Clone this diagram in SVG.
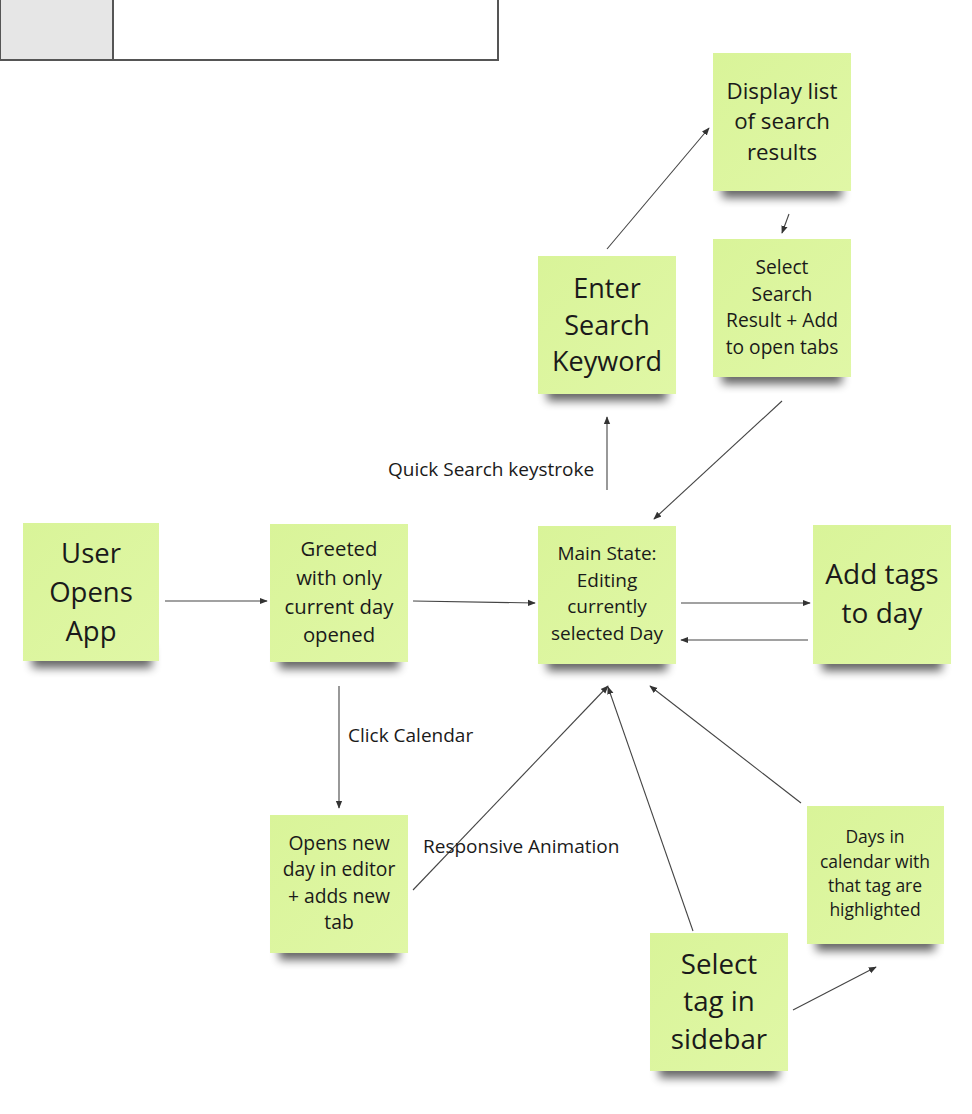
<svg xmlns="http://www.w3.org/2000/svg" width="972" height="1114" viewBox="0 0 972 1114">
<defs>
<style>
.note{fill:url(#g)}
.sh{fill:#000;opacity:0.6;filter:url(#blur)}
text{font-family:"Open Sans","Noto Sans",sans-serif;fill:#1a1a1a;text-anchor:middle}
.lbl{text-anchor:start;font-size:19px}
.c{stroke:#444;stroke-width:1.1;fill:none;marker-end:url(#ah)}
</style>
<linearGradient id="g" x1="0" y1="0" x2="1" y2="1">
<stop offset="0" stop-color="#d9f499"/>
<stop offset="1" stop-color="#e0f7a6"/>
</linearGradient>
<filter id="blur" x="-20%" y="-100%" width="140%" height="300%"><feGaussianBlur stdDeviation="5"/></filter>
<marker id="ah" viewBox="0 0 10 10" refX="9" refY="5" markerWidth="8" markerHeight="8" markerUnits="userSpaceOnUse" orient="auto">
<path d="M0,1 L10,5 L0,9 Z" fill="#333"/>
</marker>
</defs>
<g id="header">
<rect x="0" y="-2" width="113" height="62" fill="#e6e6e6" stroke="#555" stroke-width="2"/>
<rect x="113" y="-2" width="385" height="62" fill="#fff" stroke="#555" stroke-width="2"/>
</g>
<g id="n-user">
<rect class="sh" x="32" y="648" width="120" height="20"/>
<rect class="note" x="23" y="523" width="136" height="138"/>
<text font-size="27.5"><tspan x="91" y="563">User</tspan><tspan x="91" y="602">Opens</tspan><tspan x="91" y="641">App</tspan></text>
</g>
<g id="n-greeted">
<rect class="sh" x="279" y="649" width="120" height="20"/>
<rect class="note" x="270" y="524" width="138" height="138"/>
<text font-size="20.3"><tspan x="339" y="556">Greeted</tspan><tspan x="339" y="585">with only</tspan><tspan x="339" y="614">current day</tspan><tspan x="339" y="642">opened</tspan></text>
</g>
<g id="n-main">
<rect class="sh" x="547" y="651" width="120" height="20"/>
<rect class="note" x="538" y="526" width="138" height="138"/>
<text font-size="19"><tspan x="607" y="560">Main State:</tspan><tspan x="607" y="587">Editing</tspan><tspan x="607" y="613">currently</tspan><tspan x="607" y="640">selected Day</tspan></text>
</g>
<g id="n-addtags">
<rect class="sh" x="822" y="651" width="120" height="20"/>
<rect class="note" x="813" y="525" width="138" height="139"/>
<text font-size="28"><tspan x="882" y="584">Add tags</tspan><tspan x="882" y="623">to day</tspan></text>
</g>
<g id="n-enter">
<rect class="sh" x="547" y="381" width="120" height="20"/>
<rect class="note" x="538" y="256" width="138" height="138"/>
<text font-size="27"><tspan x="607" y="298">Enter</tspan><tspan x="607" y="335">Search</tspan><tspan x="607" y="371">Keyword</tspan></text>
</g>
<g id="n-display">
<rect class="sh" x="722" y="178" width="120" height="20"/>
<rect class="note" x="713" y="53" width="138" height="138"/>
<text font-size="22.3"><tspan x="782" y="99">Display list</tspan><tspan x="782" y="129">of search</tspan><tspan x="782" y="160">results</tspan></text>
</g>
<g id="n-select">
<rect class="sh" x="722" y="364" width="120" height="20"/>
<rect class="note" x="713" y="239" width="138" height="138"/>
<text font-size="19.2"><tspan x="782" y="274">Select</tspan><tspan x="782" y="301">Search</tspan><tspan x="782" y="327">Result + Add</tspan><tspan x="782" y="354">to open tabs</tspan></text>
</g>
<g id="n-opens">
<rect class="sh" x="279" y="940" width="120" height="20"/>
<rect class="note" x="270" y="815" width="138" height="138"/>
<text font-size="19.3"><tspan x="339" y="850">Opens new</tspan><tspan x="339" y="876">day in editor</tspan><tspan x="339" y="903">+ adds new</tspan><tspan x="339" y="929">tab</tspan></text>
</g>
<g id="n-days">
<rect class="sh" x="816" y="931" width="119" height="20"/>
<rect class="note" x="807" y="806" width="137" height="138"/>
<text font-size="17.5"><tspan x="875" y="843">Days in</tspan><tspan x="875" y="868">calendar with</tspan><tspan x="875" y="892">that tag are</tspan><tspan x="875" y="916">highlighted</tspan></text>
</g>
<g id="n-tag">
<rect class="sh" x="659" y="1058" width="120" height="20"/>
<rect class="note" x="650" y="933" width="138" height="138"/>
<text font-size="27.7"><tspan x="719" y="974">Select</tspan><tspan x="719" y="1011">tag in</tspan><tspan x="719" y="1049">sidebar</tspan></text>
</g>
<g id="connectors">
<line class="c" x1="165" y1="601" x2="267" y2="601"/>
<line class="c" x1="413" y1="601" x2="535" y2="603"/>
<line class="c" x1="681" y1="603" x2="810" y2="603"/>
<line class="c" x1="808" y1="640" x2="681" y2="640"/>
<line class="c" x1="607" y1="490" x2="607" y2="417"/>
<line class="c" x1="607" y1="249" x2="709" y2="128"/>
<line class="c" x1="789" y1="214" x2="782" y2="233"/>
<line class="c" x1="782" y1="401" x2="654" y2="519"/>
<line class="c" x1="339" y1="686" x2="339" y2="808"/>
<line class="c" x1="413" y1="890" x2="608" y2="686"/>
<line class="c" x1="693" y1="931" x2="608" y2="687"/>
<line class="c" x1="801" y1="803" x2="650" y2="686"/>
<line class="c" x1="793" y1="1010" x2="876" y2="967"/>
</g>
<g id="labels">
<text class="lbl" x="388" y="476">Quick Search keystroke</text>
<text class="lbl" x="348" y="742">Click Calendar</text>
<text class="lbl" x="423" y="853">Responsive Animation</text>
</g>
</svg>
